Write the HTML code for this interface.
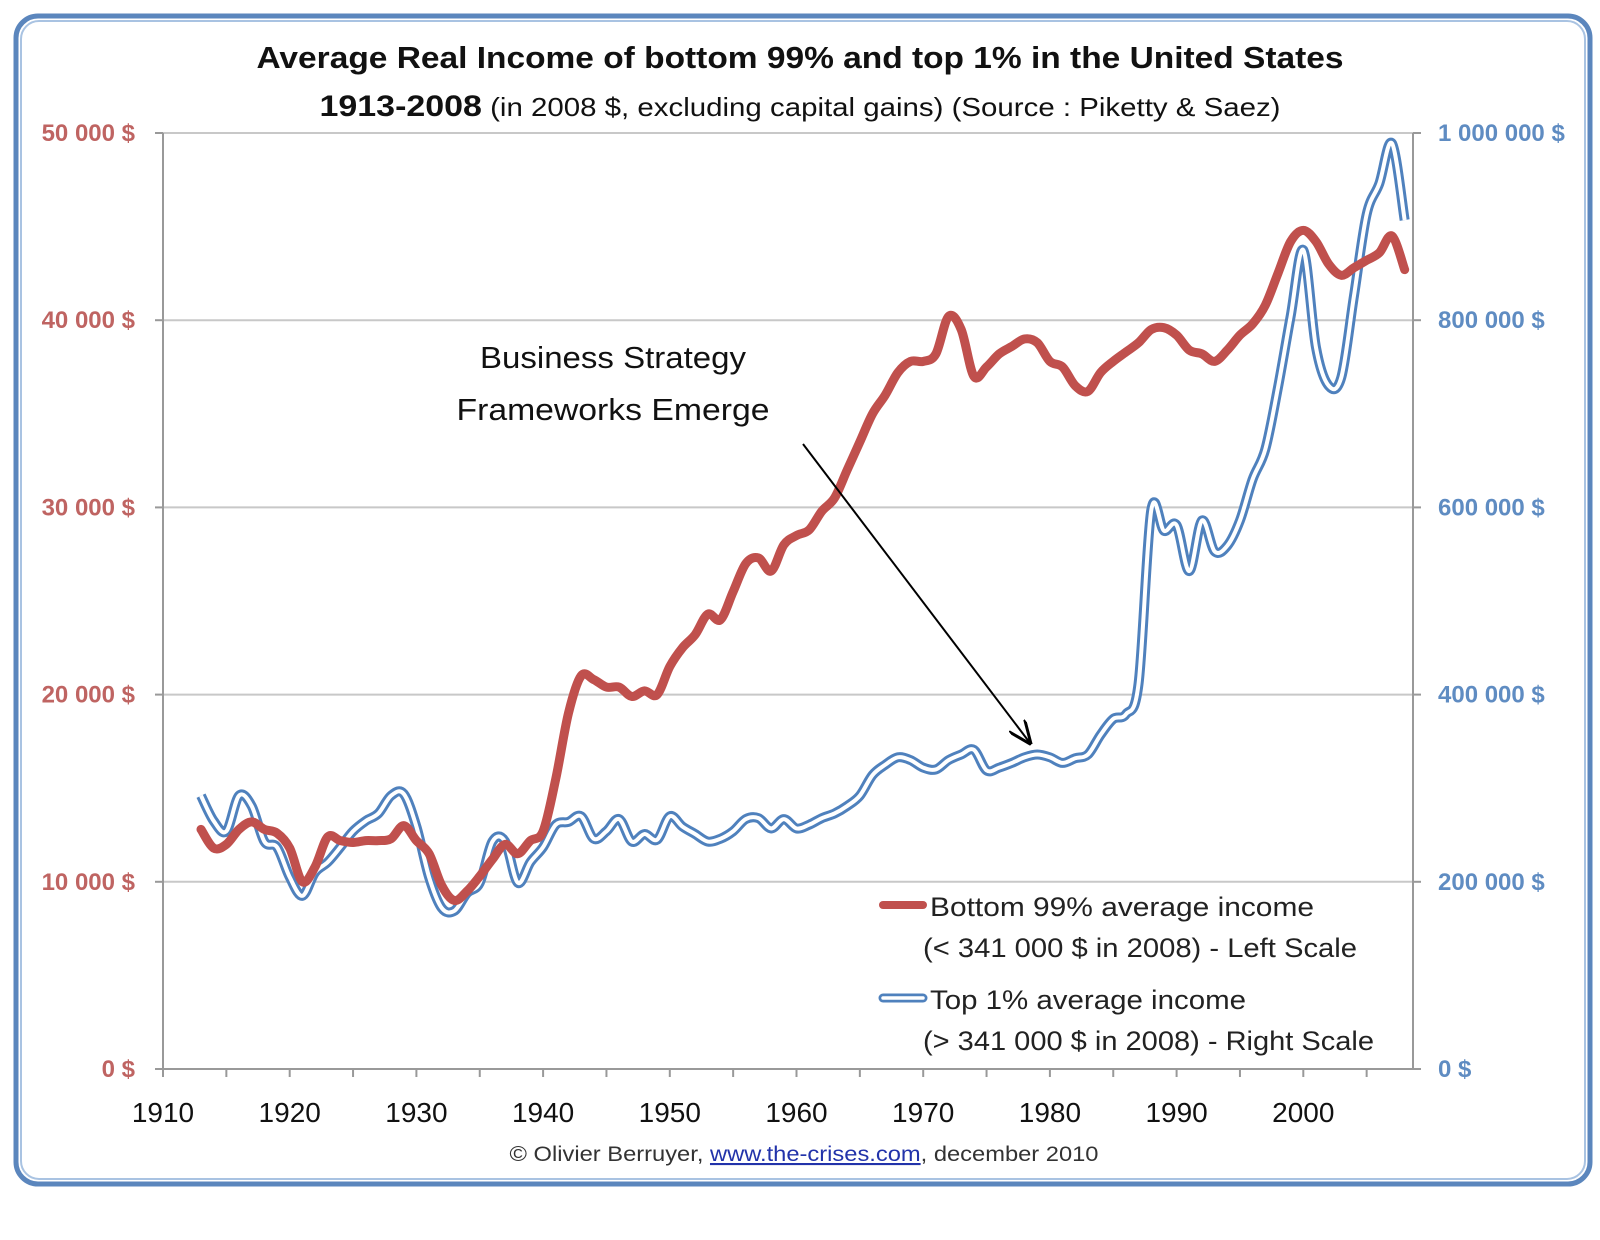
<!DOCTYPE html>
<html><head><meta charset="utf-8"><style>
html,body{margin:0;padding:0;background:#fff;}
svg{display:block;font-family:"Liberation Sans",sans-serif;}
</style></head><body>
<svg id="chart" width="1600" height="1240" viewBox="0 0 1600 1240">
<rect x="16" y="16" width="1574" height="1168" rx="22" fill="#fff" stroke="#5b86bd" stroke-width="5"/>
<rect x="21" y="21" width="1564" height="1158" rx="18" fill="none" stroke="#a9c3e2" stroke-width="2"/>
<text x="800" y="68" text-anchor="middle" font-size="31" font-weight="bold" fill="#111" textLength="1087" lengthAdjust="spacingAndGlyphs">Average Real Income of bottom 99% and top 1% in the United States</text>
<text x="800" y="116" text-anchor="middle" fill="#111" textLength="961" lengthAdjust="spacingAndGlyphs"><tspan font-size="30" font-weight="bold">1913-2008</tspan><tspan font-size="26"> (in 2008 $, excluding capital gains) (Source : Piketty &amp; Saez)</tspan></text>
<g id="grid"></g><g id="axes"></g><g id="series"></g>
<text x="613" y="368" text-anchor="middle" font-size="31" fill="#111" textLength="266" lengthAdjust="spacingAndGlyphs">Business Strategy</text>
<text x="613" y="420" text-anchor="middle" font-size="31" fill="#111" textLength="313" lengthAdjust="spacingAndGlyphs">Frameworks Emerge</text>
<defs><marker id="ah" markerWidth="12" markerHeight="10" refX="11" refY="5" orient="auto"><path d="M0,0 L12,5 L0,10" fill="none" stroke="#000" stroke-width="1.5"/></marker></defs>
<line x1="803" y1="444" x2="1030" y2="743" stroke="#000" stroke-width="2" marker-end="url(#ah)"/>
<g>
<line x1="883" y1="905" x2="923" y2="905" stroke="#c0504d" stroke-width="8" stroke-linecap="round"/>
<text x="930" y="916" font-size="27" fill="#222" textLength="384" lengthAdjust="spacingAndGlyphs">Bottom 99% average income</text>
<text x="923" y="957" font-size="27" fill="#222" textLength="434" lengthAdjust="spacingAndGlyphs">(&lt; 341 000 $ in 2008) - Left Scale</text>
<line x1="883" y1="998" x2="923" y2="998" stroke="#4f81bd" stroke-width="9" stroke-linecap="round"/>
<line x1="883" y1="998" x2="923" y2="998" stroke="#fff" stroke-width="3.5" stroke-linecap="round"/>
<text x="930" y="1009" font-size="27" fill="#222" textLength="316" lengthAdjust="spacingAndGlyphs">Top 1% average income</text>
<text x="923" y="1050" font-size="27" fill="#222" textLength="451" lengthAdjust="spacingAndGlyphs">(&gt; 341 000 $ in 2008) - Right Scale</text>
</g>
<text x="804" y="1161" text-anchor="middle" font-size="21" fill="#333" textLength="589" lengthAdjust="spacingAndGlyphs">© Olivier Berruyer, <tspan fill="#2233aa" text-decoration="underline">www.the-crises.com</tspan>, december 2010</text>
</svg>
<script>
const years = [];
for (let y = 1913; y <= 2008; y++) years.push(y);
const bottom99 = [12.8,11.8,12.0,12.8,13.2,12.8,12.6,11.8,10.0,10.8,12.4,12.2,12.1,12.2,12.2,12.3,13.0,12.2,11.5,9.8,9.0,9.5,10.3,11.2,12.0,11.5,12.2,12.7,15.5,19.0,21.0,20.8,20.4,20.4,19.9,20.2,20.0,21.5,22.5,23.2,24.3,24.0,25.5,27.0,27.3,26.6,28.0,28.5,28.8,29.8,30.5,32.0,33.5,35.0,36.0,37.2,37.8,37.8,38.2,40.2,39.5,37.0,37.5,38.2,38.6,39.0,38.8,37.8,37.5,36.5,36.2,37.2,37.8,38.3,38.8,39.5,39.6,39.2,38.4,38.2,37.8,38.4,39.2,39.8,40.8,42.5,44.2,44.8,44.2,43.0,42.4,42.8,43.2,43.6,44.5,42.7];
const top1 = [292,265,254,292,281,243,237,205,185,210,221,237,254,265,273,292,294,259,205,172,169,188,199,243,243,199,221,237,261,264,270,246,254,267,243,251,245,270,259,251,243,246,254,267,268,257,267,257,261,268,273,281,292,314,325,333,330,322,320,330,336,341,319,322,327,333,336,333,327,332,336,357,374,379,412,597,575,581,532,586,553,559,586,630,662,728,804,875,771,730,739,826,913,946,989,907];
const xTicks = [1910,1920,1930,1940,1950,1960,1970,1980,1990,2000];
const leftTicks = [0,10000,20000,30000,40000,50000];
const leftLabels = ["0 $","10 000 $","20 000 $","30 000 $","40 000 $","50 000 $"];
const rightLabels = ["0 $","200 000 $","400 000 $","600 000 $","800 000 $","1 000 000 $"];

const X0=163, X1=1413, Y0=1069, Y1=133;
const xs = y => X0 + (y-1910)/10*126.7;
const yl = v => Y0 - v/50000*(Y0-Y1);
const yr = v => Y0 - v/1000000*(Y0-Y1);
const NS="http://www.w3.org/2000/svg";
function mk(tag, attrs, parent){const e=document.createElementNS(NS,tag);for(const k in attrs)e.setAttribute(k,attrs[k]);parent.appendChild(e);return e;}
const grid=document.getElementById('grid'), axes=document.getElementById('axes'), series=document.getElementById('series');
leftTicks.forEach((t,i)=>{
  const y=yl(t);
  if(t>0){const g=mk('line',{x1:X0,x2:X1,y1:y,y2:y,stroke:'#c8c8c8','stroke-width':2},grid);
  
  }
  mk('line',{x1:X0-8,x2:X0,y1:y,y2:y,stroke:'#999','stroke-width':2},axes);
  mk('line',{x1:X1,x2:X1+8,y1:y,y2:y,stroke:'#999','stroke-width':2},axes);
  const l=mk('text',{x:135,y:y+8,'text-anchor':'end','font-size':24,'font-weight':'bold',fill:'#bf6462'},axes);
  l.textContent=leftLabels[i];
  
  
  const r=mk('text',{x:1438,y:y+8,'font-size':24,'font-weight':'bold',fill:'#5f8cc2'},axes);
  r.textContent=rightLabels[i];
  
  
});
mk('line',{x1:X0,x2:X0,y1:Y1,y2:Y0,stroke:'#999','stroke-width':2},axes);
mk('line',{x1:X1,x2:X1,y1:Y1,y2:Y0,stroke:'#999','stroke-width':2},axes);
mk('line',{x1:X0,x2:X1,y1:Y0,y2:Y0,stroke:'#999','stroke-width':2},axes);
for(let y=1910;y<=2005;y+=5) mk('line',{x1:xs(y),x2:xs(y),y1:Y0,y2:Y0+8,stroke:'#999','stroke-width':2},axes);
xTicks.forEach(t=>{const l=mk('text',{x:xs(t),y:1122,'text-anchor':'middle','font-size':28,fill:'#111'},axes);
  l.textContent=t;
  
  });
function pathD(pts){
  let d=`M${pts[0][0]},${pts[0][1]}`;
  for(let i=0;i<pts.length-1;i++){
    const p0=pts[Math.max(0,i-1)],p1=pts[i],p2=pts[i+1],p3=pts[Math.min(pts.length-1,i+2)];
    const c1=[p1[0]+(p2[0]-p0[0])/6,p1[1]+(p2[1]-p0[1])/6],c2=[p2[0]-(p3[0]-p1[0])/6,p2[1]-(p3[1]-p1[1])/6];
    d+=`C${c1[0]},${c1[1]} ${c2[0]},${c2[1]} ${p2[0]},${p2[1]}`;
  }
  return d;
}
const dTop=pathD(years.map((y,i)=>[xs(y),yr(top1[i]*1000)]));
const b1=mk('path',{d:dTop,fill:'none',stroke:'#4f81bd','stroke-width':10,'stroke-linejoin':'round'},series);


mk('path',{d:dTop,fill:'none',stroke:'#fff','stroke-width':4,'stroke-linejoin':'round'},series);
const dBot=pathD(years.map((y,i)=>[xs(y),yl(bottom99[i]*1000)]));
const r1=mk('path',{d:dBot,fill:'none',stroke:'#c0504d','stroke-width':9,'stroke-linejoin':'round','stroke-linecap':'round'},series);


</script>
</body></html>
